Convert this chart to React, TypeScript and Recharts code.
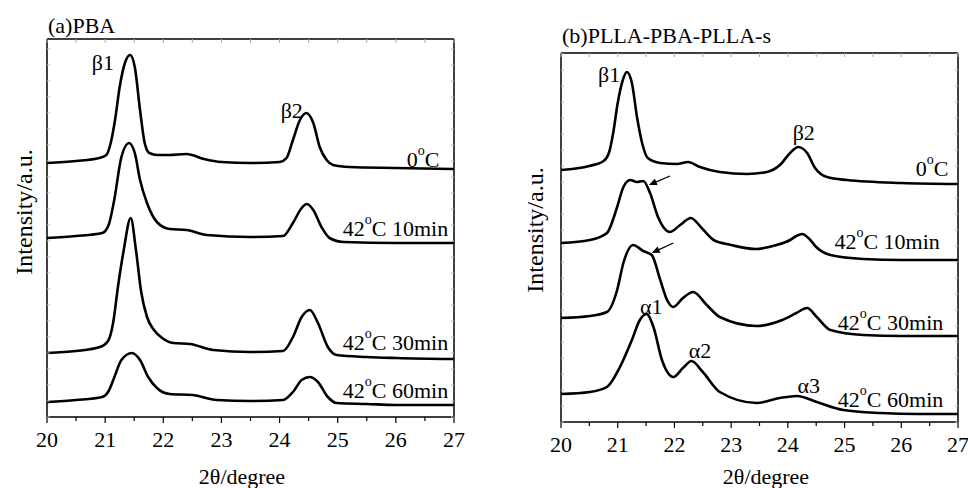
import React from 'react';
import { LineChart, Line, XAxis, YAxis, ReferenceDot, ReferenceLine } from 'recharts';

const FONT = '"Liberation Serif", "Times New Roman", Times, serif';

// 2θ axis
const xTicks = [20, 20.5, 21, 21.5, 22, 22.5, 23, 23.5, 24, 24.5, 25, 25.5, 26, 26.5, 27];

// (a) PBA — [2θ, intensity (a.u.)]
const pba0C = [
    [20, 254], [20.5, 256], [20.9, 259], [21.02, 262], [21.1, 275], [21.17, 297], [21.25, 330],
    [21.34, 354], [21.43, 362], [21.51, 350], [21.6, 307], [21.68, 274], [21.76, 264], [21.9, 262],
    [22.1, 262], [22.4, 263], [22.7, 258], [23.0, 255], [23.5, 254], [24.0, 255], [24.12, 259],
    [24.23, 277], [24.35, 297], [24.46, 304], [24.58, 294], [24.69, 270], [24.81, 257], [24.92, 252],
    [25.2, 250], [26, 249], [27, 248],
];
const pba10 = [
    [20, 179], [20.5, 181], [20.95, 184], [21.06, 192], [21.15, 215], [21.28, 260], [21.41, 274],
    [21.51, 264], [21.6, 237], [21.72, 214], [21.89, 195], [22.11, 188], [22.4, 187], [22.75, 182],
    [23.5, 180], [24.06, 181], [24.23, 194], [24.38, 209], [24.47, 213], [24.58, 207], [24.72, 190],
    [24.86, 179], [25.1, 175], [26, 174], [27, 174],
];
const pba30 = [
    [20, 64], [20.5, 66], [20.91, 70], [21.05, 76], [21.14, 95], [21.22, 130], [21.32, 167],
    [21.44, 199], [21.53, 167], [21.62, 125], [21.72, 100], [21.84, 87], [21.98, 79], [22.17, 74],
    [22.46, 73], [22.86, 67], [23.5, 65], [24.06, 66], [24.23, 80], [24.38, 100], [24.52, 107],
    [24.66, 94], [24.83, 70], [24.98, 62], [25.5, 60], [26, 59], [27, 58],
];
const pba60 = [
    [20, 15], [20.5, 17], [20.95, 20], [21.06, 26], [21.14, 37], [21.28, 57], [21.46, 64],
    [21.6, 57], [21.74, 40], [21.89, 29], [22.11, 23], [22.5, 22], [22.92, 17], [23.5, 16],
    [24.06, 17], [24.23, 25], [24.38, 37], [24.52, 40], [24.66, 35], [24.83, 20], [24.98, 14],
    [25.5, 13], [26, 12], [27, 12],
];

// (b) PLLA-PBA-PLLA-s
const triblock0C = [
    [20, 252], [20.5, 256], [20.75, 261], [20.85, 270], [20.92, 289], [21.0, 319], [21.09, 342],
    [21.16, 350], [21.25, 339], [21.34, 305], [21.43, 279], [21.53, 264], [21.75, 259], [22.04, 258],
    [22.24, 260], [22.45, 255], [22.8, 250], [23.28, 248], [23.63, 250], [23.86, 257], [24.04, 269],
    [24.18, 275], [24.34, 269], [24.48, 254], [24.69, 245], [25.04, 242], [26, 239], [27, 238],
];
const triblock10 = [
    [20, 179], [20.51, 182], [20.81, 189], [20.99, 215], [21.1, 235], [21.22, 242], [21.34, 240],
    [21.45, 241], [21.57, 229], [21.71, 205], [21.92, 190], [22.1, 197], [22.29, 204], [22.48, 194],
    [22.69, 182], [23.0, 177], [23.42, 173], [23.8, 177], [24.04, 182], [24.15, 186], [24.25, 188],
    [24.38, 183], [24.5, 175], [24.75, 167], [25.33, 163], [26, 162], [27, 162],
];
const triblock30 = [
    [20, 104], [20.51, 106], [20.81, 110], [20.99, 132], [21.1, 159], [21.27, 177], [21.45, 171],
    [21.6, 167], [21.75, 142], [21.87, 122], [21.98, 115], [22.15, 124], [22.33, 130], [22.57, 117],
    [22.8, 105], [23.45, 96], [23.9, 102], [24.15, 109], [24.34, 114], [24.51, 105], [24.75, 92],
    [25.33, 87], [26, 86], [27, 86],
];
const triblock60 = [
    [20, 28], [20.51, 30], [20.81, 35], [21.04, 55], [21.25, 82], [21.39, 102], [21.51, 108],
    [21.63, 95], [21.78, 62], [21.98, 45], [22.15, 54], [22.3, 61], [22.5, 50], [22.8, 30],
    [23.45, 19], [23.86, 24], [24.16, 26], [24.51, 20], [24.98, 12], [25.63, 9], [26.3, 8], [27, 8],
];

// peak and curve annotations, placed in data units
const pbaLabels = [
    { x: 20.96, y: 355, pre: 'β1', anchor: 'middle' },
    { x: 24.21, y: 307, pre: 'β2', anchor: 'middle' },
    { x: 26.75, y: 258, pre: '0', sup: 'o', post: 'C', anchor: 'end' },
    { x: 26.9, y: 189, pre: '42', sup: 'o', post: 'C 10min', anchor: 'end' },
    { x: 26.9, y: 75, pre: '42', sup: 'o', post: 'C 30min', anchor: 'end' },
    { x: 26.9, y: 27, pre: '42', sup: 'o', post: 'C 60min', anchor: 'end' },
];
const triblockLabels = [
    { x: 20.85, y: 348, pre: 'β1', anchor: 'middle' },
    { x: 24.28, y: 290, pre: 'β2', anchor: 'middle' },
    { x: 26.83, y: 254, pre: '0', sup: 'o', post: 'C', anchor: 'end' },
    { x: 26.68, y: 181, pre: '42', sup: 'o', post: 'C 10min', anchor: 'end' },
    { x: 26.74, y: 100, pre: '42', sup: 'o', post: 'C 30min', anchor: 'end' },
    { x: 26.74, y: 23, pre: '42', sup: 'o', post: 'C 60min', anchor: 'end' },
    { x: 21.59, y: 116, pre: 'α1', anchor: 'middle' },
    { x: 22.45, y: 72, pre: 'α2', anchor: 'middle' },
    { x: 24.37, y: 37, pre: 'α3', anchor: 'middle' },
];
const triblockArrows = [
    { from: [21.92, 246], to: [21.55, 237] },
    { from: [21.98, 179], to: [21.6, 169] },
];

const toPoints = (arr: number[][]) => arr.map(([x, y]) => ({ x, y }));

const BottomTick = (props: any) => {
    const { x, y, payload } = props;
    const major = Number.isInteger(payload.value);
    return (
        <g>
            <line x1={x} x2={x} y1={y} y2={y + (major ? 6 : 4)} stroke="#000" strokeWidth={1.2} />
            {major && (
                <text x={x} y={y + 30} textAnchor="middle" fontSize={22} fontFamily={FONT} fill="#000">
                    {payload.value}
                </text>
            )}
        </g>
    );
};

const TopTick = (props: any) => {
    const { x, y } = props;
    return <line x1={x} x2={x} y1={y} y2={y + 4} stroke="#aaa" strokeWidth={1} />;
};

const LeftTick = (props: any) => {
    const { x, y } = props;
    return <line x1={x} x2={x + 3} y1={y} y2={y} stroke="#bbb" strokeWidth={1} />;
};

const RightTick = (props: any) => {
    const { x, y } = props;
    return <line x1={x} x2={x - 3} y1={y} y2={y} stroke="#bbb" strokeWidth={1} />;
};

const makeLabelShape = (lab: any) => (props: any) => {
    const { cx, cy } = props;
    return (
        <text x={cx} y={cy} textAnchor={lab.anchor} dominantBaseline="central" fontSize={22} fontFamily={FONT} fill="#000">
            <tspan>{lab.pre}</tspan>
            {lab.sup && <tspan fontSize={14} dy={-9}>{lab.sup}</tspan>}
            {lab.post && <tspan dy={9}>{lab.post}</tspan>}
        </text>
    );
};

const ArrowShape = (props: any) => {
    const { x1, y1, x2, y2 } = props;
    const dx = x2 - x1;
    const dy = y2 - y1;
    const len = Math.sqrt(dx * dx + dy * dy) || 1;
    const ux = dx / len;
    const uy = dy / len;
    const hl = 8;
    const hw = 3.5;
    const bx = x2 - ux * hl;
    const by = y2 - uy * hl;
    return (
        <g>
            <line x1={x1} y1={y1} x2={bx} y2={by} stroke="#000" strokeWidth={1.3} />
            <polygon
                points={`${x2},${y2} ${bx - uy * hw},${by + ux * hw} ${bx + uy * hw},${by - ux * hw}`}
                fill="#000"
            />
        </g>
    );
};

interface PanelProps {
    left: number;
    width: number;
    margin: { top: number; right: number; bottom: number; left: number };
    yMax: number;
    series: number[][][];
    labels: any[];
    arrows?: { from: number[]; to: number[] }[];
}

const Panel: React.FC<PanelProps> = ({ left, width, margin, yMax, series, labels, arrows = [] }) => {
    const yTicks = Array.from({ length: Math.floor(yMax / 16) + 1 }, (_, i) => i * 16);
    const frame = { stroke: '#000', strokeWidth: 1.5 };
    return (
        <div style={{ position: 'absolute', left, top: 0 }}>
            <LineChart width={width} height={488} margin={margin}>
                <XAxis
                    xAxisId="b"
                    dataKey="x"
                    type="number"
                    domain={[20, 27]}
                    ticks={xTicks}
                    interval={0}
                    height={1}
                    tickSize={0}
                    tickMargin={0}
                    tick={<BottomTick />}
                    tickLine={false}
                    axisLine={frame}
                    allowDataOverflow
                />
                <XAxis
                    xAxisId="t"
                    orientation="top"
                    dataKey="x"
                    type="number"
                    domain={[20, 27]}
                    ticks={xTicks}
                    interval={0}
                    height={1}
                    tickSize={0}
                    tickMargin={0}
                    tick={<TopTick />}
                    tickLine={false}
                    axisLine={frame}
                    allowDataOverflow
                />
                <YAxis
                    yAxisId="l"
                    type="number"
                    domain={[0, yMax]}
                    ticks={yTicks}
                    interval={0}
                    width={1}
                    tickSize={0}
                    tickMargin={0}
                    tick={<LeftTick />}
                    tickLine={false}
                    axisLine={frame}
                    allowDataOverflow
                />
                <YAxis
                    yAxisId="r"
                    orientation="right"
                    type="number"
                    domain={[0, yMax]}
                    ticks={yTicks}
                    interval={0}
                    width={1}
                    tickSize={0}
                    tickMargin={0}
                    tick={<RightTick />}
                    tickLine={false}
                    axisLine={frame}
                    allowDataOverflow
                />
                {series.map((s, i) => (
                    <Line
                        key={i}
                        xAxisId="b"
                        yAxisId="l"
                        data={toPoints(s)}
                        dataKey="y"
                        type="monotone"
                        stroke="#000"
                        strokeWidth={2.6}
                        dot={false}
                        isAnimationActive={false}
                    />
                ))}
                {labels.map((lab, i) => (
                    <ReferenceDot
                        key={`l${i}`}
                        xAxisId="b"
                        yAxisId="l"
                        x={lab.x}
                        y={lab.y}
                        r={0}
                        shape={makeLabelShape(lab)}
                    />
                ))}
                {arrows.map((a, i) => (
                    <ReferenceLine
                        key={`a${i}`}
                        xAxisId="b"
                        yAxisId="l"
                        segment={[{ x: a.from[0], y: a.from[1] }, { x: a.to[0], y: a.to[1] }]}
                        shape={ArrowShape}
                    />
                ))}
            </LineChart>
        </div>
    );
};

const textStyle: React.CSSProperties = {
    position: 'absolute',
    fontFamily: FONT,
    fontSize: 22,
    color: '#000',
    whiteSpace: 'nowrap',
    lineHeight: 1,
};

export default function App() {
    return (
        <div style={{ position: 'absolute', left: 0, top: 0, width: 968, height: 488, background: '#fff', overflow: 'hidden' }}>
            <Panel
                left={0}
                width={480}
                margin={{ top: 38, right: 25, bottom: 70, left: 46 }}
                yMax={378}
                series={[pba0C, pba10, pba30, pba60]}
                labels={pbaLabels}
            />
            <Panel
                left={480}
                width={488}
                margin={{ top: 52, right: 9, bottom: 65, left: 80 }}
                yMax={369}
                series={[triblock0C, triblock10, triblock30, triblock60]}
                labels={triblockLabels}
                arrows={triblockArrows}
            />
            <div style={{ ...textStyle, left: 48, top: 15 }}>(a)PBA</div>
            <div style={{ ...textStyle, left: 562, top: 25 }}>(b)PLLA-PBA-PLLA-s</div>
            <div style={{ ...textStyle, left: 242, top: 466, transform: 'translateX(-50%)' }}>2θ/degree</div>
            <div style={{ ...textStyle, left: 766, top: 466, transform: 'translateX(-50%)' }}>2θ/degree</div>
            <div style={{ ...textStyle, fontSize: 24, left: 24, top: 212, transform: 'translate(-50%, -50%) rotate(-90deg)' }}>Intensity/a.u.</div>
            <div style={{ ...textStyle, fontSize: 24, left: 535, top: 230, transform: 'translate(-50%, -50%) rotate(-90deg)' }}>Intensity/a.u.</div>
        </div>
    );
}
